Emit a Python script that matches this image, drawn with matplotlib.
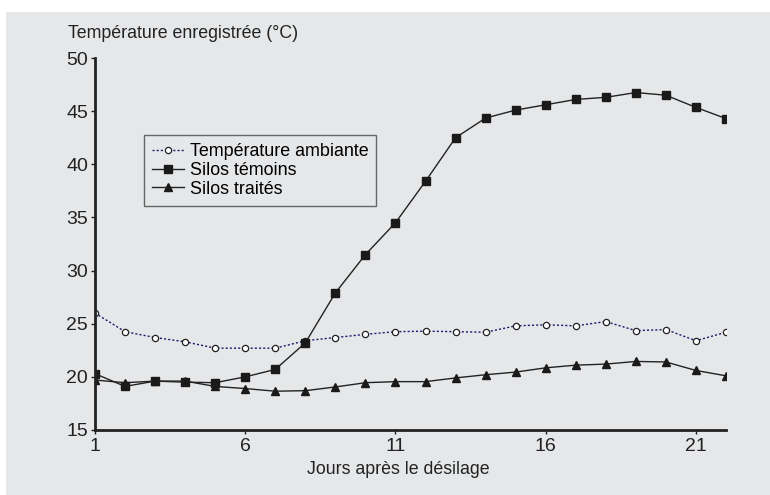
import matplotlib
matplotlib.use("Agg")
import matplotlib.pyplot as plt
from matplotlib.patches import Rectangle

plt.rcParams['font.family'] = ['Liberation Sans', 'DejaVu Sans']

jours = list(range(1, 23))
ambiante = [26.0, 24.25, 23.7, 23.3, 22.7, 22.7, 22.7, 23.4, 23.7, 24.0, 24.25,
            24.3, 24.25, 24.2, 24.8, 24.9, 24.8, 25.2, 24.35, 24.45, 23.4, 24.2]
temoins = [20.3, 19.1, 19.6, 19.5, 19.45, 20.0, 20.7, 23.2, 27.9, 31.5, 34.5,
           38.4, 42.5, 44.35, 45.1, 45.6, 46.1, 46.3, 46.75, 46.5, 45.35, 44.3]
traites = [19.7, 19.45, 19.6, 19.6, 19.1, 18.9, 18.65, 18.7, 19.05, 19.45, 19.55,
           19.55, 19.9, 20.2, 20.45, 20.85, 21.1, 21.2, 21.45, 21.4, 20.6, 20.1]
xticks = [1, 6, 11, 16, 21]
yticks = [15, 20, 25, 30, 35, 40, 45, 50]

bg = '#e6e7e9'
fig = plt.figure(figsize=(7.7, 4.95), dpi=100)
fig.patch.set_facecolor('white')
# grey panel behind the chart
fig.patches.append(Rectangle((6 / 770, 0.0), 1.0, 1 - 12 / 495,
                             transform=fig.transFigure, facecolor=bg,
                             edgecolor='none', zorder=-1))

ax = fig.add_axes([95 / 770, 1 - 430 / 495, (726 - 95) / 770, (430 - 58) / 495])
ax.set_facecolor(bg)

ax.plot(jours, ambiante, linestyle=(0, (1.5, 1.5)), color='#1a1a6e', linewidth=1,
        marker='o', markersize=4.5, markerfacecolor='white',
        markeredgecolor='#222222', markeredgewidth=0.9, label='Température ambiante')
ax.plot(jours, temoins, linestyle='-', color='#222222', linewidth=1,
        marker='s', markersize=5.8, markerfacecolor='#1a1a1a',
        markeredgecolor='#1a1a1a', label='Silos témoins')
ax.plot(jours, traites, linestyle='-', color='#222222', linewidth=1,
        marker='^', markersize=6.3, markerfacecolor='#1a1a1a',
        markeredgecolor='#1a1a1a', label='Silos traités')

ax.set_xlim(1, 22)
ax.set_ylim(15, 50)
ax.set_xticks(xticks)
ax.set_yticks(yticks)
ax.tick_params(labelsize=14, colors='#222222', length=3, width=1, direction='out')
ax.tick_params(axis='x', pad=3)
ax.tick_params(axis='y', pad=2)
for s in ['top', 'right']:
    ax.spines[s].set_visible(False)
for s in ['left', 'bottom']:
    ax.spines[s].set_linewidth(2)
    ax.spines[s].set_color('#222222')

fig.text(68 / 770, 1 - 33 / 495, 'Température enregistrée (°C)', fontsize=12.8,
         color='#222222', va='center', ha='left')
fig.text(398 / 770, 1 - 470 / 495, 'Jours après le désilage', fontsize=12.8,
         color='#222222', va='center', ha='center')

leg = ax.legend(loc='upper left', bbox_to_anchor=((144 - 95) / 631, (430 - 135) / 372),
                fontsize=12.9, frameon=True, fancybox=False, borderpad=0.45,
                handlelength=1.8, handletextpad=0.3, labelspacing=0.1,
                borderaxespad=0)
leg.get_frame().set_edgecolor('#444444')
leg.get_frame().set_facecolor(bg)
leg.get_frame().set_linewidth(1)

fig.savefig('out.png', dpi=100, facecolor=fig.get_facecolor())
